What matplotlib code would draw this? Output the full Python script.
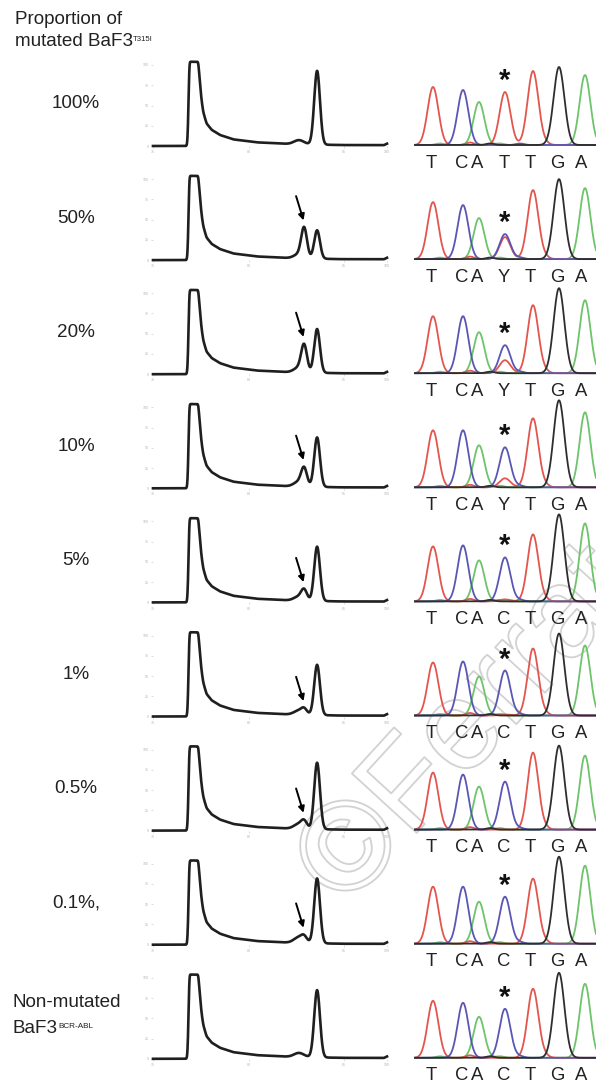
import numpy as np
import matplotlib
matplotlib.use('Agg')
import matplotlib.pyplot as plt
from matplotlib import patheffects as pe
from matplotlib.text import Annotation

# ---------------- data ----------------
row_labels = ['100%', '50%', '20%', '10%', '5%', '1%', '0.5%', '0.1%,', 'Non-mutated']

# high-resolution melting derivative curves: shared background
bg_temp = [75.0, 76.75, 76.80, 76.84, 76.90, 77.37, 77.46, 77.54, 77.63, 77.80,
           78.07, 78.51, 79.20, 80.43, 82.17, 84.79, 87.09, 87.25]
bg_val = [0, 0, 3, 30, 104, 104, 77, 57, 42, 28, 20, 13.6, 8.2, 4.5, 2.5, 1.2, 1.0, 3.0]
shoulder_height = [5, 5, 6, 6, 5, 5, 6, 7, 5]
mutant_peak = [0, 36, 32, 21, 12, 6, 8, 6, 0]      # lower-Tm peak (arrow)
wildtype_peak = [91, 35, 54, 61, 67, 62, 82, 80, 83]  # higher-Tm peak
hrm_xticks = [75, 80, 85, 87.25]
hrm_yticks = [0, 25, 50, 75, 100]

# Sanger chromatograms (peak heights in pixels)
base_calls = ['T', 'C', 'A', None, 'T', 'G', 'A']
pos4_call = ['T', 'Y', 'Y', 'Y', 'C', 'C', 'C', 'C', 'C']
peak_T1 = [58, 57, 57, 57, 55, 53, 57, 57, 57]
peak_C2 = [55, 54, 57, 57, 56, 54, 55, 57, 55]
peak_A3 = [43, 41, 41, 42, 41, 39, 43, 42, 41]
pos4_C = [0, 25, 28, 40, 44, 45, 48, 47, 49]
pos4_T = [53, 22, 13, 9, 2, 1, 0, 0, 0]
peak_T5 = [74, 69, 68, 69, 67, 67, 77, 65, 69]
peak_G6 = [78, 80, 85, 87, 87, 82, 84, 87, 85]
peak_A7 = [70, 71, 73, 75, 78, 70, 74, 78, 74]

# ---------------- layout helpers ----------------
W, H = 596, 1084
fig = plt.figure(figsize=(W / 100, H / 100), dpi=100)
fig.patch.set_facecolor('white')
FONT = ['Liberation Sans', 'DejaVu Sans']
plt.rcParams['font.family'] = FONT


def px_axes(x0, y_top, w, h):
    ax = fig.add_axes([x0 / W, 1 - (y_top + h) / H, w / W, h / H])
    ax.patch.set_visible(False)
    return ax


def ftext(x, y, s, **kw):
    return fig.text(x / W, 1 - y / H, s, **kw)


def sup_after(txt, s, size):
    a = Annotation(s, xy=(1.0, 0.84), xycoords=txt, fontsize=size, color='#222',
                   va='top', ha='left', annotation_clip=False)
    fig.add_artist(a)
    return a


def gauss(x, mu, sig):
    return np.exp(-0.5 * ((x - mu) / sig) ** 2)


ROW_PITCH = 114.1
BASE0 = 146.0
PX_PER_UNIT = 81 / 100.0  # hrm y scale

RED, BLUE, GREEN, BLACK = '#e3564e', '#5a56b4', '#6dc46a', '#2e2e2e'
peak_x = [433, 463, 479, 505, 533, 559, 585]
letter_x = [431, 462, 477, 504, 530, 557, 581]

# title
ftext(15, 20, 'Proportion of', fontsize=13.6, color='#222', va='center', ha='left')
t = ftext(15, 42, 'mutated BaF3', fontsize=13.6, color='#222', va='center', ha='left')
sup_after(t, 'T315I', 5.6)

T = np.linspace(75, 87.25, 1500)
bg = np.interp(T, bg_temp, bg_val)
k = gauss(np.arange(-10, 11), 0, 3.0)
k /= k.sum()
bg_s = np.convolve(np.pad(bg, 10, mode='edge'), k, mode='valid')

for i in range(9):
    base = BASE0 + ROW_PITCH * i
    # ---- label ----
    if i < 8:
        ftext(76, base - 42, row_labels[i], fontsize=13.6, color='#222',
              ha='center', va='center')
    else:
        ftext(13, base - 56, row_labels[i], fontsize=13.6, color='#222',
              ha='left', va='center')
        tb = ftext(13, base - 30, 'BaF3', fontsize=13.6, color='#222',
                   ha='left', va='center')
        sup_after(tb, 'BCR-ABL', 5.9)

    # ---- HRM curve ----
    h_ax = 104 * PX_PER_UNIT
    ax = px_axes(153, base - h_ax, 234, h_ax)
    y = (bg_s + shoulder_height[i] * gauss(T, 82.64, 0.26)
         + mutant_peak[i] * gauss(T, 82.91, 0.15)
         + wildtype_peak[i] * gauss(T, 83.59, 0.15))
    y = np.minimum(y, 104)
    ax.plot(T, y, color='#1f1f1f', lw=1.9, clip_on=False, solid_joinstyle='round')
    ax.set_xlim(75, 87.25)
    ax.set_ylim(0, 104)
    for s in ax.spines.values():
        s.set_visible(False)
    ax.set_xticks(hrm_xticks)
    ax.set_xticklabels(['75', '80', '85', '100'])
    ax.set_yticks(hrm_yticks)
    ax.set_yticklabels([str(v) for v in hrm_yticks])
    ax.tick_params(length=1.5, width=0.5, color='#d0d0d0', labelsize=2.6,
                   labelcolor='#b5b5b5', pad=1.5)
    if mutant_peak[i] > 0:
        tip = shoulder_height[i] + mutant_peak[i] + 8
        ax.annotate('', xy=(82.88, tip), xytext=(82.49, tip + 30),
                    arrowprops=dict(arrowstyle='-|>', color='black', lw=1.4,
                                    mutation_scale=9, shrinkA=0, shrinkB=0),
                    annotation_clip=False)

    # ---- chromatogram ----
    cax = px_axes(415, base - 95, 181, 95)
    xs = np.linspace(415, 596, 900)
    sg = 5.4
    red = (peak_T1[i] * gauss(xs, peak_x[0], sg) + pos4_T[i] * gauss(xs, peak_x[3], sg)
           + peak_T5[i] * gauss(xs, peak_x[4], sg)
           + 2.5 * gauss(xs, 470, 4) + 2 * gauss(xs, 545, 4))
    blue = (peak_C2[i] * gauss(xs, peak_x[1], sg) + pos4_C[i] * gauss(xs, peak_x[3], sg)
            + 1.5 * gauss(xs, 520, 4))
    green = (peak_A3[i] * gauss(xs, peak_x[2], sg) + peak_A7[i] * gauss(xs, peak_x[6], sg)
             + 1.5 * gauss(xs, 440, 4) + 1.5 * gauss(xs, 500, 4))
    black = peak_G6[i] * gauss(xs, peak_x[5], sg) + 1.5 * gauss(xs, 490, 4)
    for arr, c in [(green, GREEN), (red, RED), (blue, BLUE), (black, BLACK)]:
        cax.plot(xs, arr + 1.0, color=c, lw=1.3, clip_on=False)
    cax.set_xlim(415, 596)
    cax.set_ylim(0, 95)
    cax.axis('off')

    # star above position 4
    p4 = max(pos4_C[i], pos4_T[i])
    ftext(505, base - p4 - 12, '*', fontsize=21, fontweight='bold', color='#111',
          ha='center', va='center')

    # base calls
    calls = list(base_calls)
    calls[3] = pos4_call[i]
    for xl, c in zip(letter_x, calls):
        ftext(xl, base + 17, c, fontsize=13.3, color='#222', ha='center', va='center')

# watermark (outlined text)
wm = ftext(346, 910, '\u00a9Ferrata Storti', fontsize=92, color='none', rotation=47.5,
           rotation_mode='anchor', ha='left', va='baseline', zorder=-5,
           family=['Liberation Sans', 'DejaVu Sans'])
wm.set_path_effects([pe.withStroke(linewidth=1.3, foreground='#d2d2d2')])

fig.savefig('out.png', dpi=100, facecolor='white')
